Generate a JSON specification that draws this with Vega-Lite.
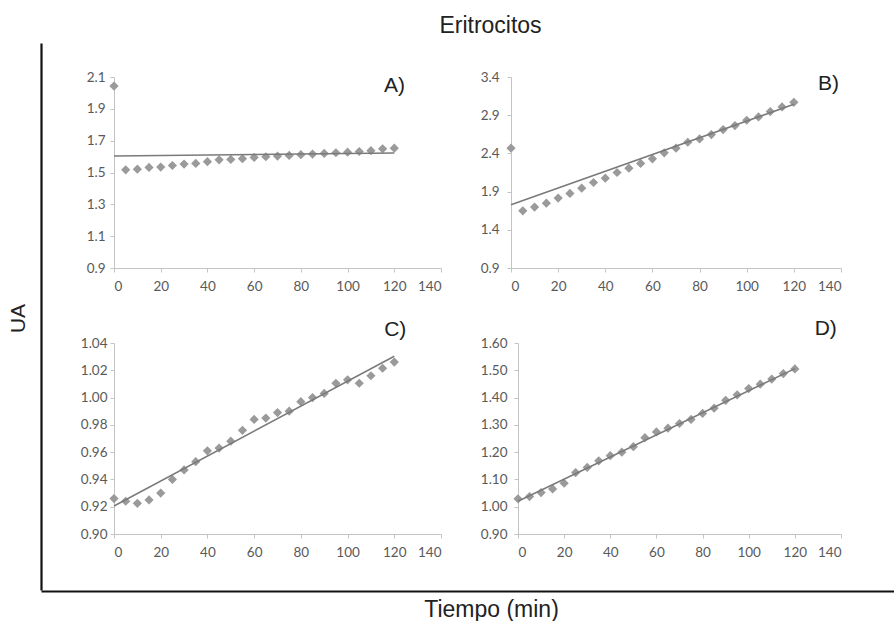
{
  "$schema": "https://vega.github.io/schema/vega-lite/v6.json",
  "padding": {"left": 7, "top": 15, "right": 0, "bottom": 0},
  "title": {"text": "Eritrocitos", "font": "Liberation Sans", "fontSize": 23, "fontWeight": "normal", "color": "#222222", "anchor": "middle", "offset": 5, "dx": 40},
  "datasets": {
    "pts": [
      {"p": "A", "t": 0, "v": 2.043}, {"p": "A", "t": 5, "v": 1.517}, {"p": "A", "t": 10, "v": 1.521}, {"p": "A", "t": 15, "v": 1.532}, {"p": "A", "t": 20, "v": 1.534}, {"p": "A", "t": 25, "v": 1.544}, {"p": "A", "t": 30, "v": 1.553}, {"p": "A", "t": 35, "v": 1.557}, {"p": "A", "t": 40, "v": 1.568}, {"p": "A", "t": 45, "v": 1.58}, {"p": "A", "t": 50, "v": 1.582}, {"p": "A", "t": 55, "v": 1.587}, {"p": "A", "t": 60, "v": 1.595}, {"p": "A", "t": 65, "v": 1.599}, {"p": "A", "t": 70, "v": 1.603}, {"p": "A", "t": 75, "v": 1.607}, {"p": "A", "t": 80, "v": 1.612}, {"p": "A", "t": 85, "v": 1.616}, {"p": "A", "t": 90, "v": 1.62}, {"p": "A", "t": 95, "v": 1.624}, {"p": "A", "t": 100, "v": 1.628}, {"p": "A", "t": 105, "v": 1.632}, {"p": "A", "t": 110, "v": 1.637}, {"p": "A", "t": 115, "v": 1.649}, {"p": "A", "t": 120, "v": 1.653},
      {"p": "B", "t": 0, "v": 2.468}, {"p": "B", "t": 5, "v": 1.649}, {"p": "B", "t": 10, "v": 1.697}, {"p": "B", "t": 15, "v": 1.749}, {"p": "B", "t": 20, "v": 1.815}, {"p": "B", "t": 25, "v": 1.876}, {"p": "B", "t": 30, "v": 1.945}, {"p": "B", "t": 35, "v": 2.019}, {"p": "B", "t": 40, "v": 2.076}, {"p": "B", "t": 45, "v": 2.15}, {"p": "B", "t": 50, "v": 2.207}, {"p": "B", "t": 55, "v": 2.268}, {"p": "B", "t": 60, "v": 2.329}, {"p": "B", "t": 65, "v": 2.407}, {"p": "B", "t": 70, "v": 2.468}, {"p": "B", "t": 75, "v": 2.546}, {"p": "B", "t": 80, "v": 2.59}, {"p": "B", "t": 85, "v": 2.647}, {"p": "B", "t": 90, "v": 2.712}, {"p": "B", "t": 95, "v": 2.764}, {"p": "B", "t": 100, "v": 2.834}, {"p": "B", "t": 105, "v": 2.877}, {"p": "B", "t": 110, "v": 2.947}, {"p": "B", "t": 115, "v": 3.008}, {"p": "B", "t": 120, "v": 3.069},
      {"p": "C", "t": 0, "v": 0.926}, {"p": "C", "t": 5, "v": 0.924}, {"p": "C", "t": 10, "v": 0.9225}, {"p": "C", "t": 15, "v": 0.925}, {"p": "C", "t": 20, "v": 0.93}, {"p": "C", "t": 25, "v": 0.94}, {"p": "C", "t": 30, "v": 0.947}, {"p": "C", "t": 35, "v": 0.953}, {"p": "C", "t": 40, "v": 0.961}, {"p": "C", "t": 45, "v": 0.963}, {"p": "C", "t": 50, "v": 0.968}, {"p": "C", "t": 55, "v": 0.976}, {"p": "C", "t": 60, "v": 0.984}, {"p": "C", "t": 65, "v": 0.985}, {"p": "C", "t": 70, "v": 0.989}, {"p": "C", "t": 75, "v": 0.99}, {"p": "C", "t": 80, "v": 0.997}, {"p": "C", "t": 85, "v": 1.0}, {"p": "C", "t": 90, "v": 1.003}, {"p": "C", "t": 95, "v": 1.0105}, {"p": "C", "t": 100, "v": 1.013}, {"p": "C", "t": 105, "v": 1.0105}, {"p": "C", "t": 110, "v": 1.016}, {"p": "C", "t": 115, "v": 1.0215}, {"p": "C", "t": 120, "v": 1.026},
      {"p": "D", "t": 0, "v": 1.029}, {"p": "D", "t": 5, "v": 1.037}, {"p": "D", "t": 10, "v": 1.052}, {"p": "D", "t": 15, "v": 1.065}, {"p": "D", "t": 20, "v": 1.086}, {"p": "D", "t": 25, "v": 1.125}, {"p": "D", "t": 30, "v": 1.144}, {"p": "D", "t": 35, "v": 1.168}, {"p": "D", "t": 40, "v": 1.187}, {"p": "D", "t": 45, "v": 1.2}, {"p": "D", "t": 50, "v": 1.22}, {"p": "D", "t": 55, "v": 1.253}, {"p": "D", "t": 60, "v": 1.274}, {"p": "D", "t": 65, "v": 1.288}, {"p": "D", "t": 70, "v": 1.305}, {"p": "D", "t": 75, "v": 1.32}, {"p": "D", "t": 80, "v": 1.342}, {"p": "D", "t": 85, "v": 1.361}, {"p": "D", "t": 90, "v": 1.39}, {"p": "D", "t": 95, "v": 1.41}, {"p": "D", "t": 100, "v": 1.433}, {"p": "D", "t": 105, "v": 1.449}, {"p": "D", "t": 110, "v": 1.468}, {"p": "D", "t": 115, "v": 1.488}, {"p": "D", "t": 120, "v": 1.505}
    ],
    "fit": [
      {"p": "A", "t": 0, "v": 1.603}, {"p": "A", "t": 120, "v": 1.623},
      {"p": "B", "t": 0, "v": 1.728}, {"p": "B", "t": 120, "v": 3.043},
      {"p": "C", "t": 0, "v": 0.9205}, {"p": "C", "t": 120, "v": 1.0303},
      {"p": "D", "t": 0, "v": 1.02}, {"p": "D", "t": 120, "v": 1.506}
    ],
    "lab": [
      {"p": "A", "t": 120.1, "v": 2.043, "text": "A)"},
      {"p": "B", "t": 134.7, "v": 3.304, "text": "B)"},
      {"p": "C", "t": 120.4, "v": 1.0495, "text": "C)"},
      {"p": "D", "t": 133.4, "v": 1.652, "text": "D)"}
    ],
    "frame": [{"t": 0.5, "v": 0.5}],
    "none": []
  },
  "spacing": 0,
  "vconcat": [
    {
      "spacing": 0,
      "hconcat": [
        {
          "width": 39, "height": 547,
          "data": {"name": "frame"},
          "mark": {"type": "point", "opacity": 0, "size": 1},
          "encoding": {
            "y": {"field": "v", "type": "quantitative", "scale": {"domain": [0, 1]},
              "axis": {"domainColor": "#111111", "domainWidth": 2.2, "ticks": false, "labels": false, "grid": false, "title": "UA", "titleFont": "Liberation Sans", "titleFontSize": 21, "titleFontWeight": "normal", "titleColor": "#222222", "titleX": -23, "titleY": 275, "titleBaseline": "middle", "titleAlign": "center", "titleAngle": -90}}
          }
        },
        {
          "spacing": 24,
          "vconcat": [
            {"width": 10, "height": 3, "data": {"name": "none"}, "mark": "point"},
            {
              "spacing": 38,
              "hconcat": [
                {
                  "width": 327, "height": 191,
                  "encoding": {
                    "x": {"field": "t", "type": "quantitative", "scale": {"domain": [0, 140], "nice": false}, "axis": {"values": [0, 20, 40, 60, 80, 100, 120, 140], "title": null}},
                    "y": {"field": "v", "type": "quantitative", "scale": {"domain": [0.9, 2.1], "nice": false, "zero": false}, "axis": {"values": [0.9, 1.1, 1.3, 1.5, 1.7, 1.9, 2.1], "format": ".1f", "title": null, "labelPadding": 5}}
                  },
                  "layer": [
                    {"data": {"name": "pts"}, "transform": [{"filter": "datum.p === 'A'"}], "mark": {"type": "point", "shape": "diamond", "filled": true, "size": 85, "color": "#9a9a9a", "opacity": 1}},
                    {"data": {"name": "fit"}, "transform": [{"filter": "datum.p === 'A'"}], "mark": {"type": "line", "color": "#7a7a7a", "strokeWidth": 1.5}},
                    {"data": {"name": "lab"}, "transform": [{"filter": "datum.p === 'A'"}], "mark": {"type": "text", "font": "Liberation Sans", "fontSize": 21, "color": "#222222", "baseline": "middle"}, "encoding": {"text": {"field": "text"}}}
                  ]
                },
                {
                  "width": 330, "height": 191,
                  "encoding": {
                    "x": {"field": "t", "type": "quantitative", "scale": {"domain": [0, 140], "nice": false}, "axis": {"values": [0, 20, 40, 60, 80, 100, 120, 140], "title": null}},
                    "y": {"field": "v", "type": "quantitative", "scale": {"domain": [0.9, 3.4], "nice": false, "zero": false}, "axis": {"values": [0.9, 1.4, 1.9, 2.4, 2.9, 3.4], "format": ".1f", "title": null, "labelPadding": 8}}
                  },
                  "layer": [
                    {"data": {"name": "pts"}, "transform": [{"filter": "datum.p === 'B'"}], "mark": {"type": "point", "shape": "diamond", "filled": true, "size": 85, "color": "#9a9a9a", "opacity": 1}},
                    {"data": {"name": "fit"}, "transform": [{"filter": "datum.p === 'B'"}], "mark": {"type": "line", "color": "#7a7a7a", "strokeWidth": 1.5}},
                    {"data": {"name": "lab"}, "transform": [{"filter": "datum.p === 'B'"}], "mark": {"type": "text", "font": "Liberation Sans", "fontSize": 21, "color": "#222222", "baseline": "middle"}, "encoding": {"text": {"field": "text"}}}
                  ]
                }
              ]
            },
            {
              "spacing": 38,
              "hconcat": [
                {
                  "width": 327, "height": 191,
                  "encoding": {
                    "x": {"field": "t", "type": "quantitative", "scale": {"domain": [0, 140], "nice": false}, "axis": {"values": [0, 20, 40, 60, 80, 100, 120, 140], "title": null}},
                    "y": {"field": "v", "type": "quantitative", "scale": {"domain": [0.9, 1.04], "nice": false, "zero": false}, "axis": {"values": [0.9, 0.92, 0.94, 0.96, 0.98, 1.0, 1.02, 1.04], "format": ".2f", "title": null, "labelPadding": 3}}
                  },
                  "layer": [
                    {"data": {"name": "pts"}, "transform": [{"filter": "datum.p === 'C'"}], "mark": {"type": "point", "shape": "diamond", "filled": true, "size": 85, "color": "#9a9a9a", "opacity": 1}},
                    {"data": {"name": "fit"}, "transform": [{"filter": "datum.p === 'C'"}], "mark": {"type": "line", "color": "#7a7a7a", "strokeWidth": 1.5}},
                    {"data": {"name": "lab"}, "transform": [{"filter": "datum.p === 'C'"}], "mark": {"type": "text", "font": "Liberation Sans", "fontSize": 21, "color": "#222222", "baseline": "middle"}, "encoding": {"text": {"field": "text"}}}
                  ]
                },
                {
                  "width": 323, "height": 191,
                  "encoding": {
                    "x": {"field": "t", "type": "quantitative", "scale": {"domain": [0, 140], "nice": false}, "axis": {"values": [0, 20, 40, 60, 80, 100, 120, 140], "title": null}},
                    "y": {"field": "v", "type": "quantitative", "scale": {"domain": [0.9, 1.6], "nice": false, "zero": false}, "axis": {"values": [0.9, 1.0, 1.1, 1.2, 1.3, 1.4, 1.5, 1.6], "format": ".2f", "title": null, "labelPadding": 7}}
                  },
                  "layer": [
                    {"data": {"name": "pts"}, "transform": [{"filter": "datum.p === 'D'"}], "mark": {"type": "point", "shape": "diamond", "filled": true, "size": 85, "color": "#9a9a9a", "opacity": 1}},
                    {"data": {"name": "fit"}, "transform": [{"filter": "datum.p === 'D'"}], "mark": {"type": "line", "color": "#7a7a7a", "strokeWidth": 1.5}},
                    {"data": {"name": "lab"}, "transform": [{"filter": "datum.p === 'D'"}], "mark": {"type": "text", "font": "Liberation Sans", "fontSize": 21, "color": "#222222", "baseline": "middle"}, "encoding": {"text": {"field": "text"}}}
                  ]
                }
              ]
            }
          ]
        }
      ]
    },
    {
      "width": 853, "height": 1,
      "data": {"name": "frame"},
      "mark": {"type": "point", "opacity": 0, "size": 1},
      "encoding": {
        "x": {"field": "t", "type": "quantitative", "scale": {"domain": [0, 1]},
          "axis": {"domainColor": "#111111", "domainWidth": 2.2, "ticks": false, "labels": false, "grid": false, "title": "Tiempo (min)", "titleFont": "Liberation Sans", "titleFontSize": 23, "titleFontWeight": "normal", "titleColor": "#222222", "titleX": 450, "titleY": 25, "titleBaseline": "alphabetic", "titleAlign": "center"}}
      }
    }
  ],
  "config": {
    "view": {"stroke": null},
    "axis": {"grid": false, "domainColor": "#c4c4c4", "tickColor": "#c4c4c4", "tickSize": 4, "labelColor": "#595959", "labelFont": "Lato", "labelFontSize": 13.5},
    "axisX": {"labelPadding": 7}
  }
}
